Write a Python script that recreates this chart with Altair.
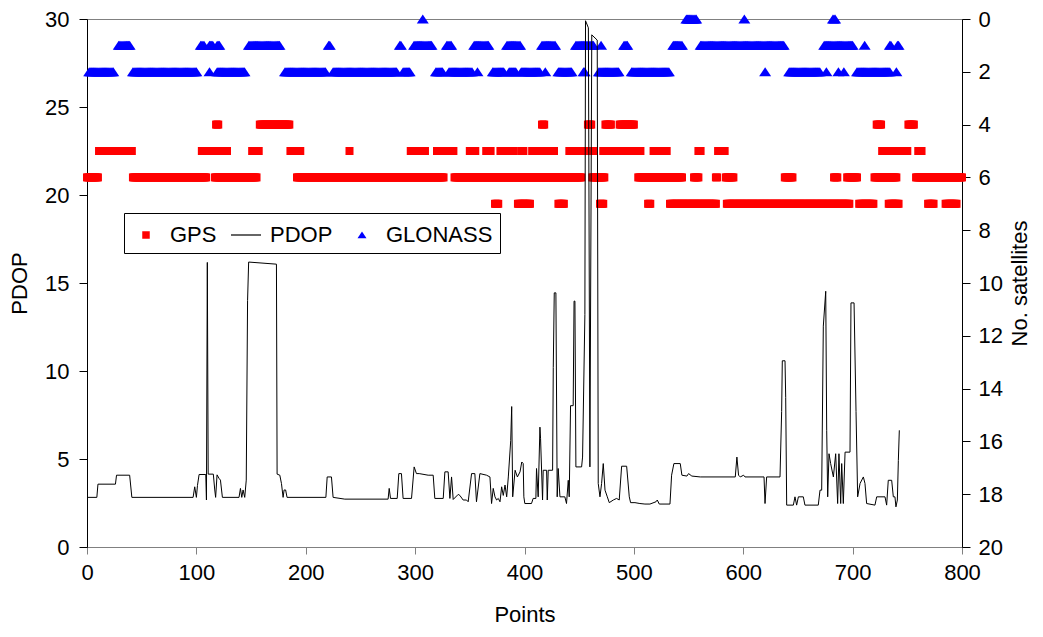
import altair as alt
import pandas as pd

gps_4 = [(118, 120), (158, 185), (416, 418), (458, 461), (474, 479), (487, 500), (722, 726), (751, 756)]
gps_5 = [(11, 41), (105, 128), (151, 157), (186, 195), (240, 240), (296, 309), (320, 335), (350, 355),
         (365, 369), (378, 390), (397, 399), (407, 427), (441, 463), (472, 506), (518, 530), (559, 561),
         (577, 583), (727, 728), (735, 750), (760, 763)]
gps_6 = [(0, 10), (42, 109), (117, 155), (192, 326), (336, 452), (462, 473), (504, 544), (555, 559),
         (575, 576), (584, 591), (638, 645), (683, 686), (695, 704), (720, 740), (758, 800)]
gps_7 = [(373, 376), (394, 405), (431, 436), (469, 472), (513, 515), (533, 575), (585, 697), (706, 719),
         (733, 742), (769, 774), (785, 795)]

glonass_0 = [(307, 307), (548, 557), (601, 601), (682, 684)]
glonass_1 = [(29, 39), (104, 107), (112, 115), (119, 121), (148, 176), (221, 222), (286, 287), (299, 315),
             (329, 333), (354, 367), (384, 396), (416, 428), (447, 463), (470, 470), (491, 494), (536, 544),
             (561, 637), (674, 700), (711, 711), (734, 735), (741, 742)]
glonass_2 = [(2, 24), (42, 100), (112, 112), (119, 144), (181, 218), (225, 283), (289, 295), (319, 325),
             (331, 352), (357, 357), (371, 381), (386, 392), (397, 414), (419, 419), (431, 443), (454, 455),
             (468, 486), (498, 532), (620, 620), (642, 670), (676, 676), (687, 687), (692, 692), (704, 734),
             (740, 740)]

# ---- PDOP line vertices (point, PDOP) ----
pdop_x = [0, 9, 10, 26, 27, 39, 41, 97, 98.5, 100, 101, 102.5, 108.6, 109.2, 110, 110.8, 115.5, 116.8,
          117.6, 118.9, 120.7, 122, 123.8, 139, 140.3, 141.5, 142.7, 144.2, 145.6, 146.8, 147.8, 173.2,
          173.8, 176.3, 177.8, 179.3, 180.2, 181.6, 182.9, 218.4, 219.6, 223.5, 225, 235.7, 275.3, 276.3,
          277.5, 283.6, 285.1, 287.5, 289, 296.7, 299.1, 301.2, 303.7, 311.9, 316.5, 318, 325.7, 327.2,
          330.2, 331.8, 333.3, 334.8, 339.4, 340.9, 343.9, 347, 348.5, 351.6, 354.6, 356.1, 359.2, 365.3,
          368.4, 369.9, 371.4, 373, 374.5, 376, 377.6, 379.1, 380.6, 382.2, 383.7, 385.2, 387.4, 388.3,
          389.2, 391.4, 393.5, 395.9, 397.5, 398.8, 399.4, 400.3, 406.4, 407.9, 410.4, 411, 412.5, 414.1,
          414.7, 416.5, 417.1, 420.2, 420.8, 421.7, 425.7, 426.3, 427.2, 428.7, 429.9, 430.8, 432.4,
          436.9, 438.4, 440, 440.9, 442.1, 444.5, 445.3, 446.1, 447, 452.2, 453.1, 455.2, 455.8, 458.4,
          459.8, 461.5, 466.5, 467.4, 469, 470.5, 472, 473.6, 475.7, 477.5, 481.2, 484.2, 486.6, 488.8,
          493.4, 495.8, 497, 501, 505.5, 510.1, 514.7, 520.2, 521.4, 523.2, 533, 534.5, 536.6, 542.4,
          543.9, 548.5, 550, 553, 560.7, 592.7, 594.2, 595.7, 597.3, 600.3, 601.6, 619, 619.9, 621.4,
          633.6, 635.1, 635.7, 638.2, 638.8, 639.7, 645.8, 647.3, 648.8, 650.4, 654.9, 656.4, 668.6,
          670.2, 671.7, 673.2, 675.4, 676.3, 677.2, 678.4, 679.9, 682.4, 684.5, 686.3, 687.5, 689.1, 690,
          691.5, 693.1, 697.6, 698.5, 701.3, 703.1, 704.6, 706.8, 709.8, 711.3, 712.8, 720.4, 722, 729.6,
          731.1, 732.6, 735.7, 737.2, 738.7, 739.6, 740.9, 741.8, 742.7]
pdop_y = [2.82, 2.82, 3.57, 3.57, 4.08, 4.08, 2.82, 2.82, 3.42, 2.82, 3.5, 4.12, 4.12, 2.67, 16.17, 4.14,
          4.14, 3.24, 2.82, 4.1, 3.9, 3.8, 2.82, 2.82, 3.33, 2.82, 3.24, 2.82, 3.8, 14.0, 16.19, 16.07,
          4.14, 4.08, 3.6, 2.82, 3.24, 3.24, 2.82, 2.82, 3.98, 3.98, 2.82, 2.72, 2.72, 3.33,
          2.76, 2.76, 4.17, 4.17, 2.76, 2.76, 4.55, 4.17, 4.17, 4.08, 4.08, 2.76, 2.76, 4.27,
          4.27, 2.76, 3.98, 2.7, 2.99, 2.93, 2.67, 2.67, 2.57, 4.17, 4.17, 2.57, 4.17, 4.08,
          3.98, 2.47, 3.33, 2.85, 2.67, 2.76, 2.57, 3.42, 2.93, 3.52, 2.85, 3.98, 6.06, 7.98,
          2.85, 4.36, 3.98, 4.27, 4.83, 4.74, 2.85, 2.47, 2.47, 2.76, 2.76, 4.46, 2.85, 6.81,
          6.15, 2.67, 4.36, 4.36, 2.67, 4.36, 4.36, 10.2, 14.44, 14.44, 2.85, 4.46, 2.85,
          2.85, 2.47, 3.79, 2.85, 8.03, 8.03, 13.97, 13.97, 4.55, 4.55, 5.11, 13.2, 29.9, 29.5,
          4.55, 29.1, 28.8, 3.61, 2.85, 3.61, 4.74, 3.23, 2.85, 2.52, 2.67, 2.76, 2.67, 4.59,
          4.59, 2.85, 2.52, 2.52, 2.47, 2.44, 2.44, 2.57, 2.67, 2.44, 2.44, 4.08, 4.74, 4.74,
          4.08, 4.03, 4.17, 4.03, 3.98, 3.98, 5.11, 4.08, 3.98, 4.08, 3.98, 3.98, 2.47, 3.98,
          3.98, 7.7, 10.58, 10.58, 8.5, 2.38, 2.38, 2.85, 2.38, 2.85, 2.85, 2.38, 2.38,
          3.23, 3.23, 12.55, 14.53, 6.63, 2.85, 5.3, 4.74, 3.98, 5.3, 2.47, 5.3, 2.47, 4.74,
          2.47, 5.39, 5.39, 13.87, 13.87, 7.7, 2.85, 3.61, 3.98, 3.61, 2.47, 2.38, 2.85, 2.85,
          2.38, 3.79, 3.79, 2.85, 2.85, 2.28, 2.67, 4.92, 6.63]

series_names = ["GPS", "PDOP", "GLONASS"]
series_colors = ["#ff0000", "#000000", "#0000ff"]
x_ticks = [0, 100, 200, 300, 400, 500, 600, 700, 800]
pdop_ticks = [0, 5, 10, 15, 20, 25, 30]
sat_ticks = [0, 2, 4, 6, 8, 10, 12, 14, 16, 18, 20]

# marker shapes (custom paths, scaled by sqrt(size)/2)
SQUARE = "M-0.25,-0.25H0.25V0.25H-0.25Z"
BAR = "M-1,-0.04H1V0.04H-1Z"
TRIANGLE = "M-0.3,0.22L0,-0.23L0.3,0.22Z"


def expand(runs, count, name):
    rows = []
    for first, last in runs:
        for p in range(first, last + 1):
            rows.append({"point": p, "sats": count, "series": name})
    return rows


gps_rows = []
for c, r in [(4, gps_4), (5, gps_5), (6, gps_6), (7, gps_7)]:
    gps_rows += expand(r, c, "GPS")
glo_rows = []
for c, r in [(0, glonass_0), (1, glonass_1), (2, glonass_2)]:
    glo_rows += expand(r, c, "GLONASS")

gps_df = pd.DataFrame(gps_rows)
glo_df = pd.DataFrame(glo_rows)
pdop_df = pd.DataFrame({"point": pdop_x, "pdop": pdop_y, "series": "PDOP"})

FONT = "Liberation Sans"

legend = alt.Legend(
    title=None, orient="none", legendX=37, legendY=194, direction="horizontal",
    strokeColor="#000000", fillColor="#ffffff", padding=7, labelFontSize=22, labelFont=FONT,
    labelColor="#000000", symbolSize=900, columnPadding=14, labelOffset=9, symbolStrokeWidth=0,
    symbolOpacity=1,
)
color = alt.Color("series:N", scale=alt.Scale(domain=series_names, range=series_colors), legend=legend)
shape = alt.Shape("series:N", scale=alt.Scale(domain=series_names, range=[SQUARE, BAR, TRIANGLE]), legend=legend)

x_enc = alt.X(
    "point:Q", scale=alt.Scale(domain=[0, 800], nice=False, zero=False),
    axis=alt.Axis(values=x_ticks, title="Points", tickSize=7, labelPadding=8, titlePadding=21,
                  domainColor="#808080", tickColor="#808080", labelFlush=False, labelOverlap=False,
                  grid=False),
)
sat_y = alt.Y(
    "sats:Q", scale=alt.Scale(domain=[0, 20], reverse=True, nice=False, zero=False),
    axis=alt.Axis(orient="right", values=sat_ticks, title="No. satellites", tickSize=8, labelPadding=8,
                  titlePadding=29, titleAngle=270, domainColor="#000000", tickColor="#000000",
                  labelOverlap=False, grid=False),
)
pdop_y_enc = alt.Y(
    "pdop:Q", scale=alt.Scale(domain=[0, 30], nice=False, zero=False),
    axis=alt.Axis(orient="left", values=pdop_ticks, title="PDOP", tickSize=8, labelPadding=10,
                  titlePadding=13, domainColor="#000000", tickColor="#000000", labelOverlap=False,
                  grid=False),
)

gps = alt.Chart(gps_df).mark_point(filled=True, size=1024, opacity=1, strokeWidth=0).encode(
    x=x_enc, y=sat_y, color=color, shape=shape)
glo = alt.Chart(glo_df).mark_point(filled=True, size=1600, opacity=1, strokeWidth=0).encode(
    x=x_enc, y=sat_y, color=color, shape=shape)
sats = alt.layer(gps, glo)

pdop = alt.Chart(pdop_df).mark_line(strokeWidth=1).encode(x=x_enc, y=pdop_y_enc, color=color)

chart = (
    alt.layer(sats, pdop)
    .resolve_scale(y="independent")
    .properties(width=875, height=528, autosize=alt.AutoSizeParams(type="none"),
                padding={"left": 79, "top": 11, "right": 72, "bottom": 81})
    .configure(font=FONT)
    .configure_view(stroke="#808080", strokeWidth=1)
    .configure_axis(labelFontSize=22, titleFontSize=22, labelFont=FONT, titleFont=FONT,
                    labelColor="#000000", titleColor="#000000", titleFontWeight="normal")
)

chart.save("out.html", embed_options={"renderer": "svg", "actions": False})
